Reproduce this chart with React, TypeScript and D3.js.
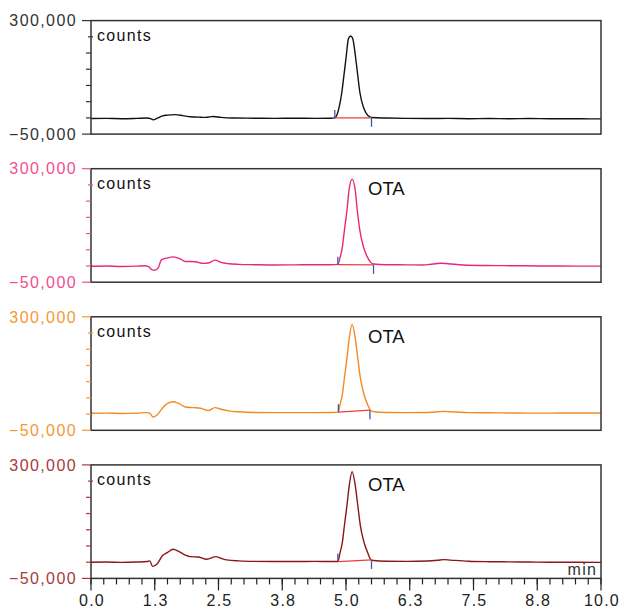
import { useEffect, useRef } from 'react';
import * as d3 from 'd3';

// retention times (min) and counts
const timesA = [0, 0.3, 0.6, 0.9, 1.1, 1.17, 1.22, 1.3, 1.4, 1.5, 1.65, 1.8, 1.95, 2.1, 2.25, 2.4, 2.55, 2.8, 3.2, 3.6, 4.0, 4.4, 4.7, 4.78, 4.82, 4.86, 4.92, 4.96, 5.0, 5.05, 5.09, 5.13, 5.19, 5.23, 5.27, 5.35, 5.42, 5.46, 5.5, 5.8, 6.2, 6.6, 7.0, 7.4, 7.8, 8.2, 8.6, 9.0, 9.4, 9.8, 10.0];
const countsA = [-2000, -1500, -2500, -1500, -500, -2500, -6000, -1000, 6000, 8500, 10000, 7000, 3500, 2500, 1500, 4500, 1500, -500, -1000, -1500, -1000, -1500, -1000, 0, 8000, 29400, 80600, 132000, 183800, 245600, 252700, 245600, 183800, 132000, 80600, 29400, 9000, 4000, 1000, -500, -1500, -2000, -1500, -2500, -2000, -2500, -2000, -2500, -2500, -3000, -3000];

const timesB = [0, 0.3, 0.6, 0.9, 1.05, 1.12, 1.2, 1.25, 1.32, 1.38, 1.5, 1.62, 1.75, 1.85, 1.95, 2.05, 2.2, 2.3, 2.43, 2.55, 2.7, 2.9, 3.2, 3.6, 4.0, 4.4, 4.7, 4.84, 4.88, 4.93, 4.97, 5.02, 5.06, 5.12, 5.18, 5.22, 5.27, 5.34, 5.43, 5.48, 5.54, 5.8, 6.2, 6.5, 6.7, 6.85, 7.0, 7.3, 7.7, 8.1, 8.5, 9.0, 9.5, 10.0];
const countsB = [-1000, 0, -1500, -500, 500, -1000, -12000, -13000, -5000, 19000, 25000, 28000, 22000, 14000, 14000, 13000, 8000, 9000, 18000, 11000, 7000, 5000, 4000, 3000, 3500, 4000, 4000, 5000, 24100, 60000, 111600, 173300, 235100, 268000, 235100, 173300, 111600, 60000, 24100, 12000, 6000, 4000, 3500, 3000, 6000, 8500, 7000, 3000, 1500, 1000, 500, 0, -500, -500];

const timesC = [0, 0.3, 0.6, 0.9, 1.1, 1.15, 1.22, 1.3, 1.4, 1.5, 1.61, 1.72, 1.85, 2.0, 2.15, 2.3, 2.43, 2.55, 2.7, 2.9, 3.2, 3.6, 4.0, 4.4, 4.7, 4.85, 4.88, 4.93, 4.97, 5.02, 5.065, 5.12, 5.18, 5.23, 5.28, 5.35, 5.43, 5.47, 5.52, 5.8, 6.2, 6.6, 6.8, 6.91, 7.05, 7.4, 7.8, 8.2, 8.6, 9.0, 9.5, 10.0];
const countsC = [2500, 3000, 2000, 3000, 4500, 3000, -9000, -2000, 18000, 33000, 38000, 33000, 22000, 20000, 18000, 11000, 20000, 15000, 10000, 7000, 5000, 4500, 4500, 4500, 5000, 6000, 27000, 62000, 113000, 174000, 236000, 276500, 236000, 174000, 113000, 62000, 27000, 14000, 8000, 5000, 4500, 5000, 7000, 8500, 7000, 4500, 4000, 3500, 3000, 3000, 3500, 3500];

const timesD = [0, 0.3, 0.6, 0.9, 1.1, 1.15, 1.21, 1.3, 1.4, 1.5, 1.61, 1.72, 1.85, 1.94, 2.1, 2.27, 2.45, 2.55, 2.66, 2.9, 3.2, 3.6, 4.0, 4.4, 4.7, 4.84, 4.88, 4.93, 4.97, 5.02, 5.065, 5.12, 5.18, 5.23, 5.28, 5.35, 5.43, 5.47, 5.5, 5.8, 6.2, 6.6, 6.8, 6.91, 7.05, 7.4, 7.8, 8.2, 8.6, 9.0, 9.5, 10.0];
const countsD = [0, 500, -500, 500, 2000, 4000, -13000, -5000, 20000, 30000, 40000, 33000, 22000, 17000, 16000, 9000, 17000, 12000, 7000, 4000, 2500, 2000, 2000, 2500, 2000, 2000, 27200, 63000, 114600, 176400, 238200, 279300, 238200, 176400, 114600, 63000, 27200, 12000, 6000, 3000, 2500, 3500, 6000, 8000, 6500, 3000, 1500, 1000, 500, 0, 0, -500];

// integration: start/end times and baseline counts per trace
const peakStart = [4.78, 4.84, 4.85, 4.84];
const peakEnd = [5.5, 5.54, 5.47, 5.5];
const baseStart = [0, 4000, 6000, 2000];
const baseEnd = [0, 3500, 12000, 7000];
const peakLabels = ['', 'OTA', 'OTA', 'OTA'];

const yTicks = [-50000, 0, 50000, 100000, 150000, 200000, 250000, 300000];
const xTicks = [0, 1.25, 2.5, 3.75, 5, 6.25, 7.5, 8.75, 10];
const xMinorTicks = d3.range(0, 10.001, 0.25);

const traceColors = ['#111111', '#e6287a', '#f28a26', '#8c1515'];
const labelColors = ['#333333', '#f0508f', '#f59838', '#a83a3a'];

const App = () => {
  const svgRef = useRef(null);

  useEffect(() => {
    const width = 624;
    const height = 610;
    const left = 91;
    const right = 601;
    const firstTop = 20.6;
    const gap = 148.1;
    const panelH = 113.5;
    const font = '"Liberation Sans", Arial, sans-serif';

    const svg = d3.select(svgRef.current).attr('width', width).attr('height', height);
    svg.selectAll('*').remove();

    const x = d3.scaleLinear().domain([0, 10]).range([left, right]);

    const traces = [
      { t: timesA, c: countsA },
      { t: timesB, c: countsB },
      { t: timesC, c: countsC },
      { t: timesD, c: countsD },
    ];

    traces.forEach((tr, i) => {
      const top = firstTop + i * gap;
      const bottom = top + panelH;
      const y = d3.scaleLinear().domain([-50000, 300000]).range([bottom, top]);
      const g = svg.append('g');

      // trace
      const pts = tr.t.map((t, k) => [t, tr.c[k]]);
      const line = d3
        .line()
        .x((d) => x(d[0]))
        .y((d) => y(d[1]))
        .curve(d3.curveMonotoneX);
      g.append('path')
        .attr('d', line(pts))
        .attr('fill', 'none')
        .attr('stroke', traceColors[i])
        .attr('stroke-width', 1.4)
        .attr('stroke-linejoin', 'round');

      // integration baseline and markers
      g.append('line')
        .attr('x1', x(peakStart[i]))
        .attr('x2', x(peakEnd[i]))
        .attr('y1', y(baseStart[i]))
        .attr('y2', y(baseEnd[i]))
        .attr('stroke', '#f03c3c')
        .attr('stroke-width', 1.2);
      g.append('line')
        .attr('x1', x(peakStart[i]))
        .attr('x2', x(peakStart[i]))
        .attr('y1', y(baseStart[i]))
        .attr('y2', y(baseStart[i]) - 8)
        .attr('stroke', '#3c5aa8')
        .attr('stroke-width', 1.3);
      g.append('line')
        .attr('x1', x(peakEnd[i]))
        .attr('x2', x(peakEnd[i]))
        .attr('y1', y(baseEnd[i]))
        .attr('y2', y(baseEnd[i]) + 9)
        .attr('stroke', '#3c5aa8')
        .attr('stroke-width', 1.3);

      // frame
      g.append('rect')
        .attr('x', left)
        .attr('y', top)
        .attr('width', right - left)
        .attr('height', panelH)
        .attr('fill', 'none')
        .attr('stroke', '#333')
        .attr('stroke-width', 1.5);

      // y ticks
      g.selectAll('.yt')
        .data(yTicks)
        .enter()
        .append('line')
        .attr('x1', (d) => (d === 300000 || d === -50000 ? left - 9 : d === 250000 ? left + 2 : left - 5))
        .attr('x2', (d) => (d === 250000 ? left - 3 : left))
        .attr('y1', (d) => y(d))
        .attr('y2', (d) => y(d))
        .attr('stroke', labelColors[i])
        .attr('stroke-width', 1.2);

      g.selectAll('.yl')
        .data([300000, -50000])
        .enter()
        .append('text')
        .attr('x', left - 14)
        .attr('y', (d) => y(d))
        .attr('dy', '0.36em')
        .attr('text-anchor', 'end')
        .style('font-family', font)
        .style('font-size', '16px')
        .style('letter-spacing', '1.4px')
        .style('fill', labelColors[i])
        .text((d) => d3.format(',')(d));

      g.append('text')
        .attr('x', left + 6)
        .attr('y', top + 20)
        .style('font-family', font)
        .style('font-size', '16px')
        .style('letter-spacing', '1.3px')
        .style('fill', '#111')
        .text('counts');

      if (peakLabels[i]) {
        g.append('text')
          .attr('x', 368)
          .attr('y', top + 26)
          .style('font-family', font)
          .style('font-size', '18.5px')
          .style('fill', '#111')
          .text(peakLabels[i]);
      }

      // x axis on the last panel only
      if (i === traces.length - 1) {
        g.selectAll('.xm')
          .data(xMinorTicks)
          .enter()
          .append('line')
          .attr('x1', (d) => x(d))
          .attr('x2', (d) => x(d))
          .attr('y1', bottom)
          .attr('y2', bottom + 6)
          .attr('stroke', '#222')
          .attr('stroke-width', 1.2);
        g.selectAll('.xt')
          .data(xTicks)
          .enter()
          .append('line')
          .attr('x1', (d) => x(d))
          .attr('x2', (d) => x(d))
          .attr('y1', bottom)
          .attr('y2', bottom + 12)
          .attr('stroke', '#222')
          .attr('stroke-width', 1.2);
        g.selectAll('.xl')
          .data(xTicks)
          .enter()
          .append('text')
          .attr('x', (d) => x(d) + 1)
          .attr('y', bottom + 28)
          .attr('text-anchor', 'middle')
          .style('font-family', font)
          .style('font-size', '16px')
          .style('letter-spacing', '1.2px')
          .style('fill', '#222')
          .text((d) => d.toFixed(1));
        g.append('text')
          .attr('x', right - 4)
          .attr('y', bottom - 3)
          .attr('text-anchor', 'end')
          .style('font-family', font)
          .style('font-size', '16px')
          .style('letter-spacing', '1.2px')
          .style('fill', '#333')
          .text('min');
      }
    });
  }, []);

  return (
    <div>
      <svg ref={svgRef} style={{ position: 'absolute', left: 0, top: 0 }}></svg>
    </div>
  );
};

export default App;
